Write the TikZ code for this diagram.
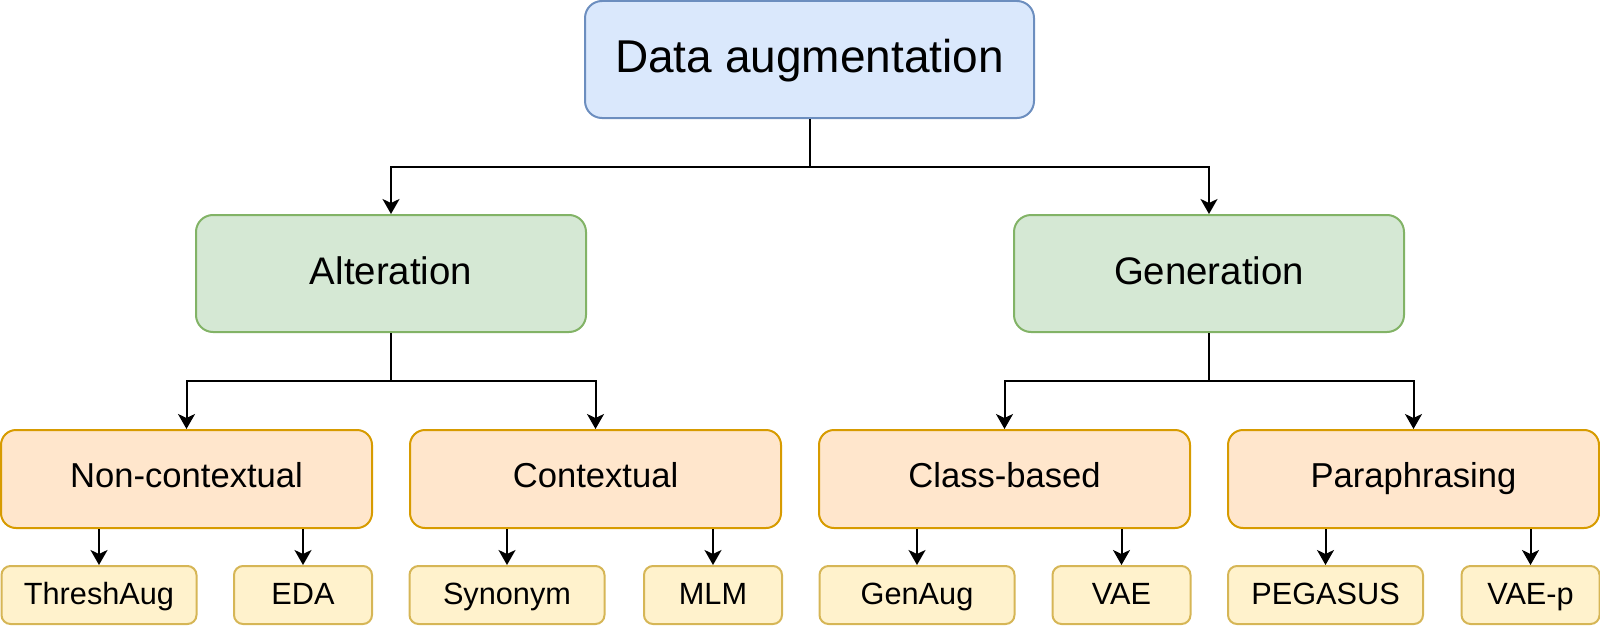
\documentclass[tikz,border=0pt]{standalone}
\usepackage{fontspec}
\setmainfont{Liberation Sans}
\usetikzlibrary{arrows.meta,calc}
\definecolor{bfill}{HTML}{DAE8FC}\definecolor{bline}{HTML}{6C8EBF}
\definecolor{gfill}{HTML}{D5E8D4}\definecolor{gline}{HTML}{82B366}
\definecolor{ofill}{HTML}{FFE6CC}\definecolor{oline}{HTML}{D79B00}
\definecolor{yfill}{HTML}{FFF2CC}\definecolor{yline}{HTML}{D6B656}
\tikzset{
  box/.style={draw,line width=2pt,inner sep=0pt,align=center},
  rootbox/.style={box,fill=bfill,draw=bline,minimum width=449pt,minimum height=117pt,rounded corners=17pt,font=\fontsize{46}{50}\selectfont,text height=35pt,text depth=10pt},
  midbox/.style={box,fill=gfill,draw=gline,minimum width=390pt,minimum height=117pt,rounded corners=17pt,font=\fontsize{38.4}{42}\selectfont,text height=29.5pt,text depth=7.5pt},
  catbox/.style={box,fill=ofill,draw=oline,minimum width=371pt,minimum height=98pt,rounded corners=15pt,font=\fontsize{34.6}{38}\selectfont,text height=26pt,text depth=9pt},
  leafbox/.style={box,fill=yfill,draw=yline,minimum height=58pt,rounded corners=9pt,font=\fontsize{30.7}{34}\selectfont,text height=23.5pt,text depth=5.5pt},
  wide/.style={leafbox,minimum width=195pt},
  narrow/.style={leafbox,minimum width=138pt},
  arr/.style={draw,line width=2pt,-{Stealth[length=15pt,width=17pt,inset=4pt]}}
}
\begin{document}
\begin{tikzpicture}[x=1pt,y=-1pt]
\useasboundingbox (0,0) rectangle (1600,626);
\node[rootbox] (root) at (809.5,59.5) {Data augmentation};
\node[midbox] (alt) at (391,273.5) {Alteration};
\node[midbox] (gen) at (1209,273.5) {Generation};
\node[catbox] (nc) at (186.5,479) {Non-contextual};
\node[catbox] (ctx) at (595.5,479) {Contextual};
\node[catbox] (cls) at (1004.5,479) {Class-based};
\node[catbox] (par) at (1413.5,479) {Paraphrasing};
\node[wide] (ta) at (99,595) {ThreshAug};
\node[narrow] (eda) at (303,595) {EDA};
\node[wide] (syn) at (507,595) {Synonym};
\node[narrow] (mlm) at (713,595) {MLM};
\node[wide] (ga) at (917,595) {GenAug};
\node[narrow] (vae) at (1121.5,595) {VAE};
\node[wide] (peg) at (1325.5,595) {PEGASUS};
\node[narrow] (vaep) at (1530.5,595) {VAE-p};
\coordinate (j0) at ($(root.south)!0.5!(root.south |- alt.north)$);
\coordinate (j1) at ($(alt.south)!0.5!(alt.south |- nc.north)$);
\coordinate (j2) at ($(gen.south)!0.5!(gen.south |- cls.north)$);
\draw[line width=2pt] (root.south) -- (j0);
\draw[arr] (j0) -| (alt.north);
\draw[arr] (j0) -| (gen.north);
\draw[line width=2pt] (alt.south) -- (j1);
\draw[arr] (j1) -| (nc.north);
\draw[arr] (j1) -| (ctx.north);
\draw[line width=2pt] (gen.south) -- (j2);
\draw[arr] (j2) -| (cls.north);
\draw[arr] (j2) -| (par.north);
\foreach \p/\c in {nc/ta,nc/eda,ctx/syn,ctx/mlm,cls/ga,cls/vae,par/peg,par/vaep}
  \draw[arr] (\c.north |- \p.south) -- (\c.north);
\end{tikzpicture}
\end{document}
